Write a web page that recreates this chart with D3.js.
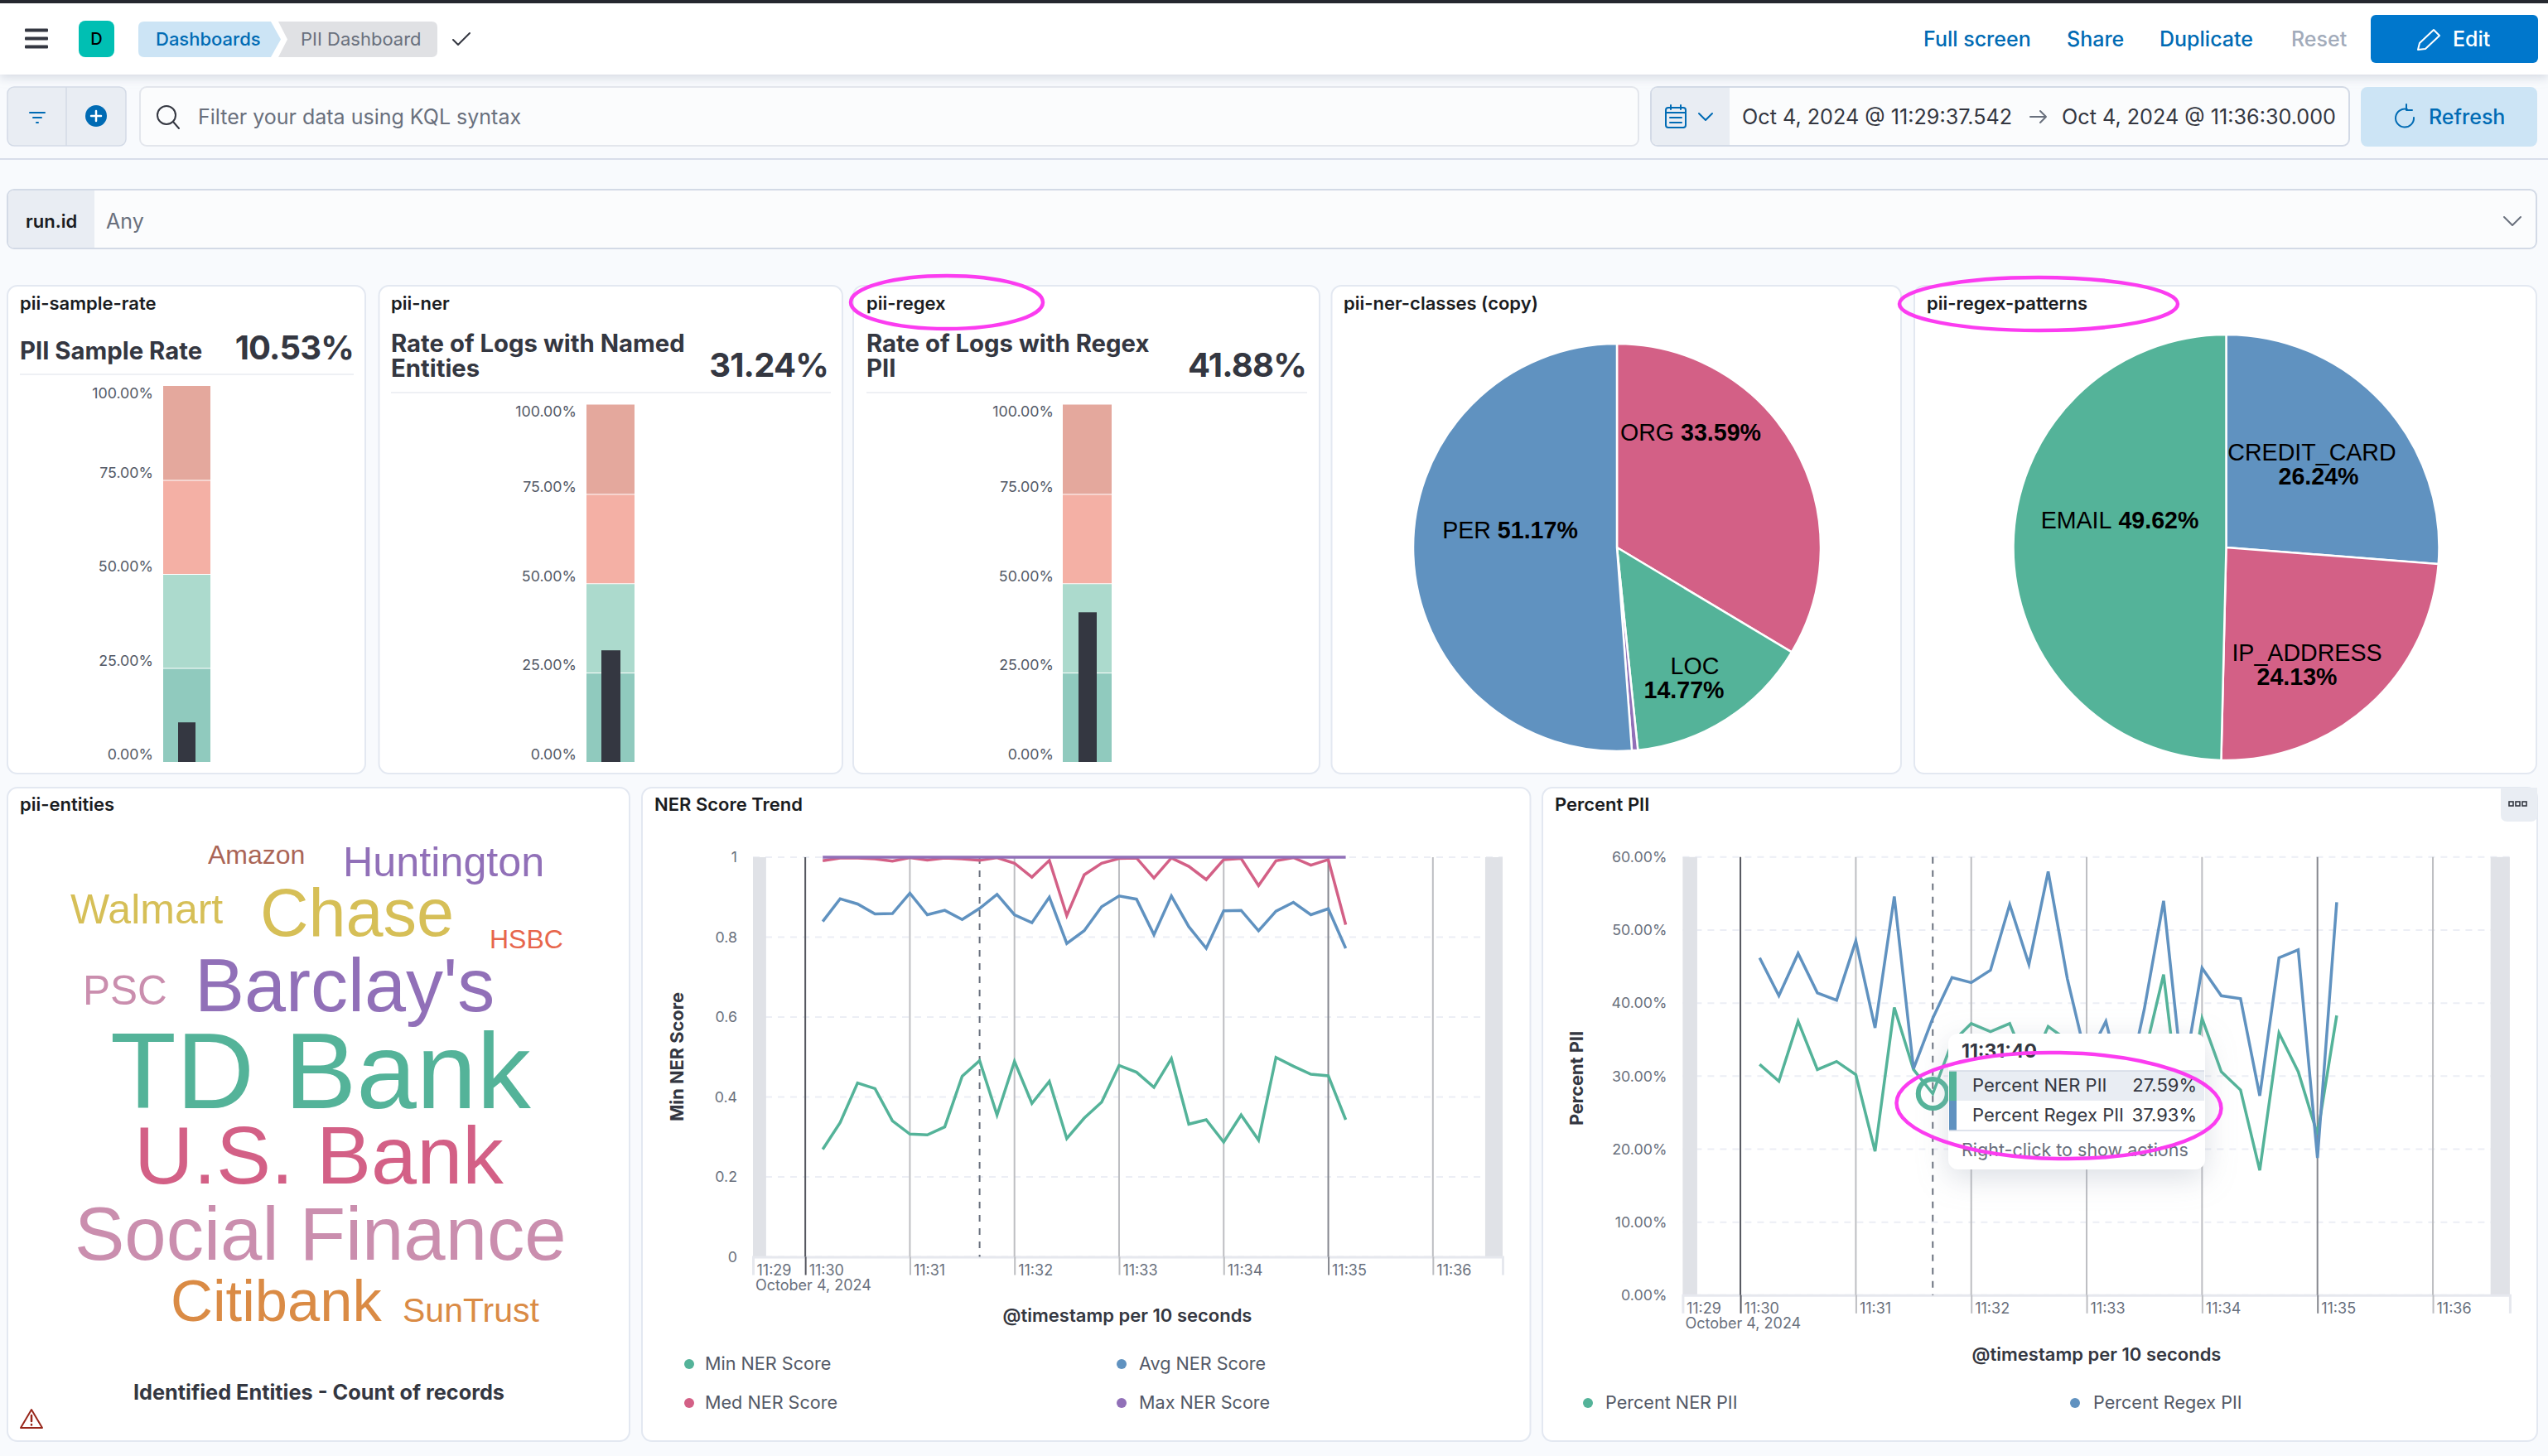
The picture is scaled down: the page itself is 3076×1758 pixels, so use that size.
<!DOCTYPE html>
<html>
<head>
<meta charset="utf-8">
<script src="https://cdnjs.cloudflare.com/ajax/libs/d3/7.8.5/d3.min.js"></script>
<style>
html,body{margin:0;padding:0;background:#f8fafd;}
svg{display:block;}
text{font-family:Inter,"Noto Sans",sans-serif;}
.cloud text{font-family:"Liberation Sans",Arial,sans-serif;}
.pielabel{font-family:"Liberation Sans",Arial,sans-serif;}
</style>
</head>
<body>
<div id="chart"></div>
<script>
// ---------- data ----------
const gaugeTicks = [0, 25, 50, 75, 100];
const gaugeBandColors = ["#90cabe", "#acdacd", "#f4b0a5", "#e4a89d"];
const gaugeValues = [10.53, 31.24, 41.88];
const gaugeTitles = [["PII Sample Rate"], ["Rate of Logs with Named", "Entities"], ["Rate of Logs with Regex", "PII"]];
const gaugePanelTitles = ["pii-sample-rate", "pii-ner", "pii-regex"];

const nerClassNames = ["ORG", "LOC", "MISC", "PER"];
const nerClassValues = [33.59, 14.77, 0.47, 51.17];
const nerClassColors = ["#d36086", "#54b399", "#9170b8", "#6092c0"];
const regexNames = ["CREDIT_CARD", "IP_ADDRESS", "EMAIL"];
const regexValues = [26.24, 24.13, 49.62];
const regexColors = ["#6092c0", "#d36086", "#54b399"];

const cloudWords = ["TD Bank", "U.S. Bank", "Social Finance", "Barclay's", "Chase", "Citibank", "Walmart", "Huntington", "PSC", "SunTrust", "Amazon", "HSBC"];
const cloudSizes = [130.5, 99, 90.5, 90, 81, 70.5, 50, 50.3, 49.5, 41, 32, 32];
const cloudColors = ["#54b399", "#d36086", "#ca8eae", "#9170b8", "#d6bf57", "#da8b45", "#d6bf57", "#9170b8", "#ca8eae", "#da8b45", "#aa6556", "#e7664c"];
const cloudX = [133, 162, 90, 235, 314, 206, 85, 414, 100, 486, 251, 591];
const cloudY = [1338, 1429, 1521, 1221, 1130, 1595, 1115, 1058, 1213, 1596, 1043, 1145];

const nerMin = [.269,.336,.435,.421,.340,.307,.305,.325,.452,.491,.355,.489,.384,.439,.296,.347,.387,.479,.462,.424,.496,.332,.343,.287,.355,.292,.499,.477,.457,.453,.343];
const nerMed = [.991,.998,.998,.996,.990,.999,.993,.998,.996,.992,.999,.985,.950,.992,.854,.956,.985,.997,.998,.948,.998,.977,.944,.994,.997,.929,.991,.999,.980,.994,.831];
const nerAvg = [.839,.896,.883,.858,.859,.910,.856,.867,.844,.872,.907,.856,.836,.900,.784,.816,.876,.903,.895,.806,.903,.826,.772,.866,.867,.816,.865,.887,.856,.871,.772];
const nerMax = [1,1,1,1,1,1,1,1,1,1,1,1,1,1,1,1,1,1,1,1,1,1,1,1,1,1,1,1,1,1,1];
const pctNer = [31.6,29.3,37.5,30.9,32.0,30.2,19.7,39.4,30.9,27.59,34.6,37.2,36.1,37.2,30.8,36.8,34.9,32.0,29.0,26.5,32.8,43.9,22.0,37.9,30.6,28.1,17.1,35.9,30.6,22.0,38.3];
const pctRegex = [46.2,41.0,46.8,41.4,40.4,48.5,36.6,54.6,31.0,37.93,43.5,42.8,44.5,53.5,45.3,58.0,43.3,32.2,37.5,27.0,39.2,54.0,29.3,44.8,41.0,40.6,27.3,46.2,47.3,18.8,53.8];
const nerTicks = [0, 0.2, 0.4, 0.6, 0.8, 1];
const pctTicks = [0, 10, 20, 30, 40, 50, 60];

// ---------- helpers ----------
const W = 3076, H = 1758;
const svg = d3.select("#chart").append("svg").attr("width", W).attr("height", H).attr("viewBox", `0 0 ${W} ${H}`);
const defs = svg.append("defs");
const f1 = defs.append("filter").attr("id","ttshadow").attr("x","-30%").attr("y","-30%").attr("width","160%").attr("height","170%");
f1.append("feDropShadow").attr("dx",0).attr("dy",10).attr("stdDeviation",18).attr("flood-color","#98a2b3").attr("flood-opacity",.35);
const f2 = defs.append("filter").attr("id","hshadow").attr("x","-5%").attr("y","-50%").attr("width","110%").attr("height","220%");
f2.append("feDropShadow").attr("dx",0).attr("dy",4).attr("stdDeviation",6).attr("flood-color","#98a2b3").attr("flood-opacity",.35);

function rect(g,x,y,w,h,fill,opt={}){
  const r=g.append("rect").attr("x",x).attr("y",y).attr("width",w).attr("height",h).attr("fill",fill);
  Object.entries(opt).forEach(([k,v])=>r.attr(k,v));
  return r;
}
function txt(g,x,y,s,size,fill,weight=400,anchor="start"){
  return g.append("text").attr("x",x).attr("y",y).attr("font-size",size).attr("fill",fill)
    .attr("font-weight",weight).attr("text-anchor",anchor).text(s);
}
function path(g,d,stroke,sw=2,fill="none"){
  return g.append("path").attr("d",d).attr("stroke",stroke).attr("stroke-width",sw).attr("fill",fill)
    .attr("stroke-linecap","round").attr("stroke-linejoin","round");
}
const panel = (x,y,w,h)=>rect(svg,x,y,w,h,"#fff",{rx:12,ry:12,stroke:"#e3e8f1","stroke-width":2});

// ---------- header ----------
const head = svg.append("g");
rect(head,0,0,W,90,"#fff",{filter:"url(#hshadow)"});
rect(head,0,0,W,4,"#25282f");
[36,46,56].forEach(y=>rect(head,30,y-1.5,28,4,"#343741",{rx:1}));
rect(head,95,25,43,44,"#00bfb3",{rx:8});
txt(head,116.5,54,"D",20,"#000",500,"middle");
path(head,"M174,26 H327 L339,47.5 L327,69 H174 Q167,69 167,62 V33 Q167,26 174,26 Z","none",0,"#cce4f5");
path(head,"M336,26 H521 Q528,26 528,33 V62 Q528,69 521,69 H336 L347,47.5 Z","none",0,"#e0e1e4");
txt(head,188,55,"Dashboards",22,"#006bb4",500);
txt(head,363,55,"PII Dashboard",22,"#69707d",400);
path(head,"M547,48 L553,54 L567,40","#343741",2);
const headLinks=[["Full screen",2322,"#006bb4"],["Share",2495,"#006bb4"],["Duplicate",2607,"#006bb4"],["Reset",2766,"#a2abba"]];
headLinks.forEach(d=>txt(head,d[1],56,d[0],25,d[2],500));
rect(head,2862,18,202,58,"#0077cc",{rx:6});
txt(head,2961,56,"Edit",25,"#fff",500);
path(head,"M2919,60 L2921,52 L2938,36 L2945,43 L2928,59 Z","#fff",2);

// ---------- query bar ----------
const bar = svg.append("g");
rect(bar,9,105,143,71,"#e9edf3",{rx:8,stroke:"#d3dae6","stroke-width":1.5});
bar.append("line").attr("x1",80).attr("x2",80).attr("y1",105).attr("y2",176).attr("stroke","#d3dae6").attr("stroke-width",1.5);
path(bar,"M36,136 H54 M40,142 H50 M44,148 H46","#006bb4",2);
bar.append("circle").attr("cx",116).attr("cy",140).attr("r",13).attr("fill","#006bb4");
path(bar,"M110,140 H122 M116,134 V146","#fff",2.5);
rect(bar,169,105,1809,71,"#fbfcfd",{rx:8,stroke:"#e3e6ec","stroke-width":2});
bar.append("circle").attr("cx",201).attr("cy",139).attr("r",11).attr("fill","none").attr("stroke","#343741").attr("stroke-width",2);
path(bar,"M209,147 L216,155","#343741",2);
txt(bar,239,150,"Filter your data using KQL syntax",25,"#69707d",400);
rect(bar,1993,105,843,71,"#fbfcfd",{rx:8,stroke:"#d3dae6","stroke-width":2});
path(bar,"M2001,106 H2088 V175 H2001 Q1994,175 1994,168 V113 Q1994,106 2001,106 Z","none",0,"#e9edf3");
rect(bar,2011,130,24,24,"none",{stroke:"#006bb4","stroke-width":2,rx:3});
path(bar,"M2011,136 H2035 M2017,127 V132 M2029,127 V132 M2016,142 H2030 M2016,148 H2030","#006bb4",2);
path(bar,"M2051,137 L2059,145 L2067,137","#006bb4",2);
txt(bar,2103,150,"Oct 4, 2024 @ 11:29:37.542",25.2,"#343741",400);
path(bar,"M2451,141 H2470 M2463,134 L2470,141 L2463,148","#69707d",2);
txt(bar,2489,150,"Oct 4, 2024 @ 11:36:30.000",25.2,"#343741",400);
rect(bar,2850,105,213,72,"#cce4f5",{rx:8});
path(bar,"M2906,132 A11,11 0 1 0 2914,142","#006bb4",2);
path(bar,"M2905,126 V133 H2912","#006bb4",2);
txt(bar,2932,150,"Refresh",25,"#006bb4",500);
bar.append("line").attr("x1",0).attr("x2",W).attr("y1",192).attr("y2",192).attr("stroke","#d8deea").attr("stroke-width",2);
rect(bar,9,229,3053,71,"#fbfcfd",{rx:8,stroke:"#d3dae6","stroke-width":2});
path(bar,"M17,230 H114 V299 H17 Q10,299 10,292 V237 Q10,230 17,230 Z","none",0,"#e9edf3");
txt(bar,31,275,"run.id",22,"#1a1c21",600);
txt(bar,128,276,"Any",25,"#69707d",400);
path(bar,"M3023,262 L3033,272 L3043,262","#69707d",2);

// ---------- gauges ----------
const gaugeGeo = [
  {px:9,pw:432,top:466,tx:24,rx:427,dx2:427,dy:452,vy:434,by:[434],bx:197,bw:57,ix:215,iw:21,lx:184},
  {px:457.5,pw:559.5,top:488.5,tx:472,rx:1000,dx2:1003,dy:474,vy:455,by:[425,455],bx:708,bw:58,ix:726,iw:23,lx:695},
  {px:1030,pw:563,top:488.5,tx:1046,rx:1577,dx2:1578,dy:474,vy:455,by:[425,455],bx:1283,bw:59,ix:1302,iw:22,lx:1271}
];
gaugeGeo.forEach((g,i)=>{
  panel(g.px,345,g.pw,589);
  const G=svg.append("g");
  txt(G,g.tx,374,gaugePanelTitles[i],22,"#1a1c21",600);
  gaugeTitles[i].forEach((t,j)=>txt(G,g.tx,g.by[j],t,29.3,"#343741",650));
  txt(G,g.rx,g.vy,d3.format(".2f")(gaugeValues[i])+"%",40,"#343741",700,"end").attr("letter-spacing",-0.8);
  G.append("line").attr("x1",g.tx).attr("x2",g.dx2).attr("y1",g.dy).attr("y2",g.dy).attr("stroke","#eef0f4").attr("stroke-width",2);
  const y=d3.scaleLinear().domain([0,100]).range([920,g.top]);
  d3.pairs(gaugeTicks).forEach((p,k)=>{
    rect(G,g.bx,y(p[1])+(k===3?0:1),g.bw,y(p[0])-y(p[1])-(k===3?0:1),gaugeBandColors[k]);
  });
  rect(G,g.ix,y(gaugeValues[i]),g.iw,y(0)-y(gaugeValues[i]),"#343741");
  const ax=G.append("g").attr("transform",`translate(${g.lx+1},0)`)
    .call(d3.axisLeft(y).tickValues(gaugeTicks).tickSize(0).tickPadding(0).tickFormat(d=>d3.format(".2f")(d)+"%"));
  ax.select(".domain").remove();
  ax.selectAll("text").attr("font-size",17.8).attr("fill","#535966").attr("font-family","Inter")
    .attr("dy",d=>d===100?"0.8em":"-0.18em");
});

// ---------- pies ----------
function drawPie(cx,cy,r,values,colors){
  const g=svg.append("g").attr("transform",`translate(${cx},${cy})`);
  const pie=d3.pie().sort(null).value(d=>d)(values);
  const arc=d3.arc().innerRadius(0).outerRadius(r);
  g.selectAll("path").data(pie).join("path").attr("d",arc).attr("fill",(d,i)=>colors[i]).attr("stroke","#fff").attr("stroke-width",2.5);
}
function pieLabel(lines){
  lines.forEach(l=>{
    const t=svg.append("text").attr("class","pielabel").attr("x",l[0]).attr("y",l[1]).attr("font-size",28.6).attr("fill","#000").attr("text-anchor",l[4]||"middle");
    if(l[2]) t.append("tspan").text(l[2]);
    if(l[3]) t.append("tspan").attr("font-weight",700).text((l[2]?" ":"")+l[3]);
  });
}
panel(1607.5,345,687.5,589);
txt(svg,1622,374,"pii-ner-classes (copy)",22,"#1a1c21",600);
drawPie(1952,661,246,nerClassValues,nerClassColors);
pieLabel([
  [2041,532,nerClassNames[0],d3.format(".2f")(nerClassValues[0])+"%"],
  [1823,650,nerClassNames[3],d3.format(".2f")(nerClassValues[3])+"%"],
  [2046,814,nerClassNames[1],""],
  [2033,843,"",d3.format(".2f")(nerClassValues[1])+"%"]
]);
panel(2311,345,751,589);
txt(svg,2326,374,"pii-regex-patterns",22,"#1a1c21",600);
drawPie(2687.5,661,257,regexValues,regexColors);
pieLabel([
  [2791,556,regexNames[0],""],
  [2799,585,"",d3.format(".2f")(regexValues[0])+"%"],
  [2559,638,regexNames[2],d3.format(".2f")(regexValues[2])+"%"],
  [2785,798,regexNames[1],""],
  [2773,827,"",d3.format(".2f")(regexValues[1])+"%"]
]);

// ---------- word cloud ----------
panel(9,951,751,789);
txt(svg,24,979,"pii-entities",22,"#1a1c21",600);
const cloud=svg.append("g").attr("class","cloud");
cloudWords.forEach((w,i)=>{
  cloud.append("text").attr("x",cloudX[i]).attr("y",cloudY[i]).attr("font-size",cloudSizes[i]).attr("fill",cloudColors[i]).text(w);
});
txt(svg,385,1690,"Identified Entities - Count of records",25.3,"#343741",700,"middle");
path(svg,"M38,1702 L51,1724 H25 Z","#98271b",2);
path(svg,"M38,1709 V1716 M38,1720 V1720.5","#98271b",2.5);

// ---------- line charts ----------
const t0=(h,m,s=0,ms=0)=>new Date(Date.UTC(2024,9,4,h,m,s,ms));
const timeStamps=d3.range(31).map(i=>t0(11,30,10+i*10));
function lineChart(o){
  const g=svg.append("g");
  const x=d3.scaleUtc().domain([t0(11,29,30),t0(11,36,40)]).range(o.xr);
  const y=d3.scaleLinear().domain(o.yd).range(o.yr);
  g.append("g").selectAll("line").data(o.yTicks).join("line")
    .attr("x1",o.xr[0]).attr("x2",o.xr[1]).attr("y1",d=>y(d)).attr("y2",d=>y(d))
    .attr("stroke","#eceef5").attr("stroke-width",2).attr("stroke-dasharray","8 7");
  rect(g,x(t0(11,29,30)),o.yr[1],x(t0(11,29,37,542))-x(t0(11,29,30)),o.yr[0]-o.yr[1],"#e0e2e7");
  rect(g,x(t0(11,36,30)),o.yr[1],x(t0(11,36,40))-x(t0(11,36,30)),o.yr[0]-o.yr[1],"#e0e2e7");
  const ticks=[t0(11,29,30)].concat(d3.range(30,37).map(m=>t0(11,m)));
  const ax=g.append("g").attr("transform",`translate(0,${o.yr[0]})`)
    .call(d3.axisBottom(x).tickValues(ticks).tickSize(o.tick).tickPadding(0).tickFormat(d3.utcFormat("%H:%M")));
  ax.select(".domain").attr("stroke","#e6e8ee").attr("stroke-width",3);
  ax.selectAll(".tick line").attr("stroke",(d,i)=>i===0?"none":i===1?"#55575f":i===6?"#85878e":"#bdbec2").attr("stroke-width",2);
  ax.selectAll("text").attr("font-size",18).attr("fill","#69707d").attr("font-family","Inter")
    .attr("text-anchor","start").attr("x",4).attr("y",o.tickLabelDy).attr("dy",0);
  g.append("g").selectAll("line").data(ticks.slice(1)).join("line")
    .attr("x1",d=>x(d)).attr("x2",d=>x(d)).attr("y1",o.yr[1]).attr("y2",o.yr[0])
    .attr("stroke",(d,i)=>i===0?"#55575f":i===5?"#85878e":"#bdbec2").attr("stroke-width",2);
  txt(g,x(t0(11,29,30))+3,o.yr[0]+o.tickLabelDy+18,"October 4, 2024",18,"#69707d");
  const ay=g.append("g").attr("transform",`translate(${o.xr[0]-19},0)`)
    .call(d3.axisLeft(y).tickValues(o.yTicks).tickSize(0).tickPadding(0).tickFormat(o.yFmt));
  ay.select(".domain").remove();
  ay.selectAll("text").attr("font-size",17.8).attr("fill","#69707d").attr("font-family","Inter");
  g.append("line").attr("x1",x(t0(11,31,40))).attr("x2",x(t0(11,31,40))).attr("y1",o.yr[1]).attr("y2",o.yr[0])
    .attr("stroke","#69707d").attr("stroke-width",2).attr("stroke-dasharray","8 8");
  const line=d3.line().x((d,i)=>x(timeStamps[i])).y(d=>y(d));
  o.series.forEach(s=>{
    g.append("path").datum(s.v).attr("d",line).attr("fill","none").attr("stroke",s.c).attr("stroke-width",s.w||3.5).attr("stroke-linejoin","miter");
  });
  g.append("text").attr("transform",`translate(${o.ytx},${o.yty}) rotate(-90)`).attr("text-anchor","middle")
    .attr("font-size",21.8).attr("font-weight",700).attr("fill","#343741").text(o.yTitle);
  txt(g,o.xtx,o.xty,"@timestamp per 10 seconds",22,"#343741",600,"middle");
  return {x,y,g};
}
panel(775,951,1072.5,789);
txt(svg,790,979,"NER Score Trend",22,"#1a1c21",600);
const ner=lineChart({
  xr:[909,1814],yr:[1517.5,1035],yd:[0,1],yTicks:nerTicks,tick:22,tickLabelDy:22,yFmt:d=>d3.format("")(d),
  series:[{v:nerMin,c:"#54b399"},{v:nerAvg,c:"#6092c0"},{v:nerMed,c:"#d36086"},{v:nerMax,c:"#9170b8"}],
  yTitle:"Min NER Score",ytx:825,yty:1276,xtx:1361,xty:1596
});
panel(1862,951,1201,789);
txt(svg,1877,979,"Percent PII",22,"#1a1c21",600);
path(svg,"M3019,951 H3063 V984 Q3063,992 3055,992 H3027 Q3019,992 3019,984 Z","none",0,"#e9edf3");
[3029,3037,3045].forEach(x=>rect(svg,x,968,5,5,"none",{stroke:"#343741","stroke-width":1.6}));
const pct=lineChart({
  xr:[2031.4,3029.9],yr:[1563.8,1034.8],yd:[0,60],yTicks:pctTicks,tick:22,tickLabelDy:22,yFmt:d=>d3.format(".2f")(d)+"%",
  series:[{v:pctNer,c:"#54b399"},{v:pctRegex,c:"#6092c0"}],
  yTitle:"Percent PII",ytx:1911,yty:1302,xtx:2531,xty:1643
});

function legend(items){
  items.forEach(d=>{
    svg.append("circle").attr("cx",d[1]).attr("cy",d[2]).attr("r",6).attr("fill",d[3]);
    txt(svg,d[4],d[2]+7,d[0],21.6,"#535966");
  });
}
legend([
  ["Min NER Score",832,1647,"#54b399",851],
  ["Avg NER Score",1354,1647,"#6092c0",1375],
  ["Med NER Score",832,1694,"#d36086",851],
  ["Max NER Score",1354,1694,"#9170b8",1375],
  ["Percent NER PII",1917,1694,"#54b399",1938],
  ["Percent Regex PII",2505,1694,"#6092c0",2527]
]);

// ---------- tooltip on Percent PII ----------
const cursor=t0(11,31,40);
pct.g.append("circle").attr("cx",pct.x(cursor)).attr("cy",pct.y(pctNer[9])).attr("r",17.5).attr("fill","none").attr("stroke","#54b399").attr("stroke-width",6);
const tip=svg.append("g");
rect(tip,2352,1248,310,164,"#fff",{rx:12,filter:"url(#ttshadow)"});
txt(tip,2368,1277,d3.utcFormat("%H:%M:%S")(cursor),23,"#343741",700);
rect(tip,2353,1293,308,36,"#e9edf3");
rect(tip,2353,1293,9,36,"#54b399");
rect(tip,2353,1329,9,36,"#6092c0");
tip.append("line").attr("x1",2353).attr("x2",2661).attr("y1",1293).attr("y2",1293).attr("stroke","#d3dae6").attr("stroke-width",1.5);
tip.append("line").attr("x1",2353).attr("x2",2661).attr("y1",1365).attr("y2",1365).attr("stroke","#d3dae6").attr("stroke-width",1.5);
txt(tip,2381,1318,"Percent NER PII",22,"#343741");
txt(tip,2652,1318,d3.format(".2f")(pctNer[9])+"%",22,"#343741",400,"end");
txt(tip,2381,1354,"Percent Regex PII",22,"#343741");
txt(tip,2652,1354,d3.format(".2f")(pctRegex[9])+"%",22,"#343741",400,"end");
txt(tip,2368,1396,"Right-click to show actions",21.5,"#69707d");

// ---------- hand-drawn annotations ----------
const ann=svg.append("g").attr("fill","none").attr("stroke","#fb3cf0");
ann.append("ellipse").attr("cx",1143).attr("cy",365).attr("rx",116).attr("ry",32).attr("stroke-width",4.5);
ann.append("ellipse").attr("cx",2461).attr("cy",367).attr("rx",168).attr("ry",32).attr("stroke-width",4.5);
ann.append("ellipse").attr("cx",2485.5).attr("cy",1335).attr("rx",196).attr("ry",64).attr("stroke-width",4.5).attr("transform","rotate(1 2485.5 1335)");
</script>
</body>
</html>
